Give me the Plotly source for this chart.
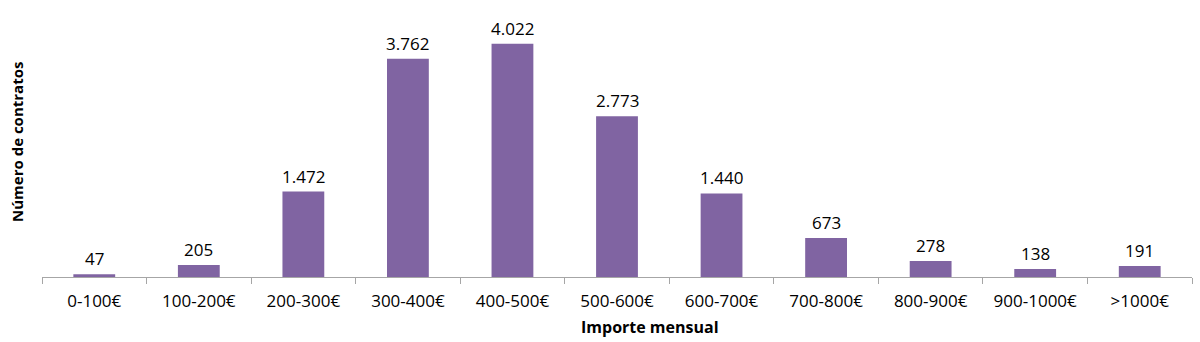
import plotly.graph_objects as go

categories = ["0-100€", "100-200€", "200-300€", "300-400€", "400-500€", "500-600€",
              "600-700€", "700-800€", "800-900€", "900-1000€", ">1000€"]
values = [47, 205, 1472, 3762, 4022, 2773, 1440, 673, 278, 138, 191]
x_title = "Importe mensual"
y_title = "Número de contratos"

FONT = "'Open Sans', sans-serif"
BAR = "#8064A2"
W, H = 1200, 342
L, R, T, B = 42, 8, 16, 65

fig = go.Figure(go.Bar(x=categories, y=values, marker_color=BAR, width=0.4,
                       marker_line_width=0, hoverinfo="skip"))

for c, v in zip(categories, values):
    fig.add_annotation(x=c, y=v, text=f"{v:,}".replace(",", "."), showarrow=False,
                       yanchor="bottom", yshift=2, font=dict(family=FONT, size=17, color="#000"))

# axis titles (positioned as in the original, slightly off-centre horizontally)
fig.add_annotation(xref="paper", yref="paper", x=(650 - L) / (W - L - R), y=-(327 - (H - B)) / (H - T - B),
                   text=f"<b>{x_title}</b>", showarrow=False, xanchor="center", yanchor="middle",
                   font=dict(family=FONT, size=16, color="#000"))
fig.add_annotation(xref="paper", yref="paper", x=-(L - 17) / (W - L - R), y=((H - B) - 142) / (H - T - B),
                   text=f"<b>{y_title}</b>", showarrow=False, textangle=-90,
                   xanchor="center", yanchor="middle",
                   font=dict(family=FONT, size=15, color="#000"))

fig.update_layout(
    width=W, height=H,
    margin=dict(l=L, r=R, t=T, b=B),
    plot_bgcolor="white", paper_bgcolor="white",
    font=dict(family=FONT, size=17, color="#000"),
    showlegend=False,
    xaxis=dict(type="category", showline=True, linecolor="#A6A6A6", linewidth=1,
               ticks="outside", tickson="boundaries", ticklen=6, tickcolor="#A6A6A6",
               ticklabelstandoff=9,
               tickfont=dict(family=FONT, size=17, color="#000"),
               showgrid=False),
    yaxis=dict(range=[0, 4500], showticklabels=False, showgrid=False, zeroline=False,
               showline=False, ticks=""),
)

fig.write_html("out.html")
